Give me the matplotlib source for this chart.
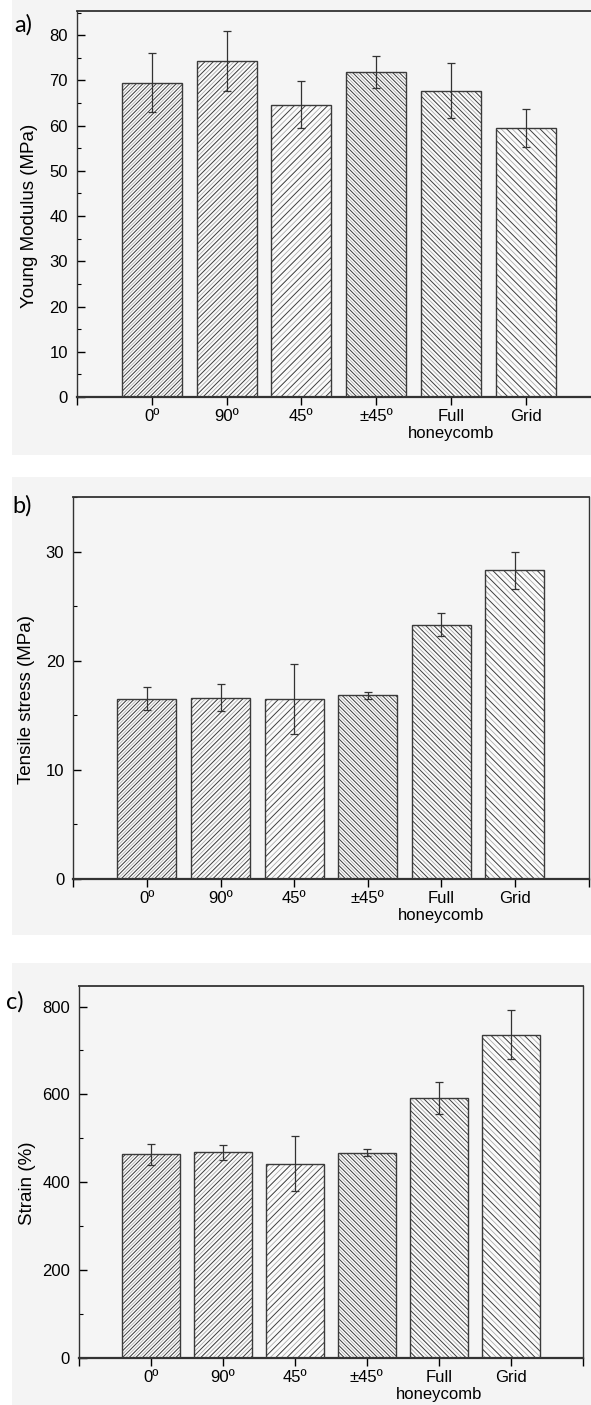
import matplotlib.pyplot as plt
from matplotlib.patches import Rectangle
from matplotlib.ticker import MultipleLocator

categories = ['0º', '90º', '45º', '±45º', 'Full\nhoneycomb', 'Grid']
young_modulus = [69.5, 74.3, 64.6, 71.8, 67.7, 59.4]
young_modulus_err = [6.6, 6.7, 5.2, 3.5, 6.1, 4.2]
tensile_stress = [16.5, 16.6, 16.5, 16.8, 23.3, 28.3]
tensile_stress_err = [1.05, 1.25, 3.2, 0.35, 1.07, 1.7]
strain = [463, 468, 442, 467, 592, 736]
strain_err = [24, 17, 63, 8, 37, 56]

hatch_dir = ['/', '/', '/', '\\', '\\', '\\']
hatch_n = [5, 4, 3, 5, 4, 3]

W, H = 591, 1405
plt.rcParams['font.family'] = ['Liberation Sans', 'DejaVu Sans']
plt.rcParams['hatch.linewidth'] = 0.6

fig = plt.figure(figsize=(W / 100, H / 100), dpi=100)
fig.patch.set_facecolor('white')

# light grey paper behind each panel
for (x0, y0, x1, y1) in [(12, 0, 591, 455), (12, 477, 591, 935), (12, 963, 591, 1405)]:
    fig.patches.append(Rectangle((x0 / W, 1 - y1 / H), (x1 - x0) / W, (y1 - y0) / H,
                                 transform=fig.transFigure, facecolor='#f4f4f4',
                                 edgecolor='none', zorder=-5))


def px_axes(left, top, right, bottom):
    return fig.add_axes([left / W, 1 - bottom / H, (right - left) / W, (bottom - top) / H])


def panel(ax, values, errs, ymax, major, minor, ylabel, ylab_xy, tag, tag_xy):
    x = list(range(1, 7))
    for i in range(6):
        ax.bar(x[i], values[i], width=0.8, facecolor='#fbfbfb', edgecolor='#b0b0b0',
               linewidth=0, hatch=hatch_dir[i] * (hatch_n[i] * 2), zorder=2)
        ax.bar(x[i], values[i], width=0.8, facecolor='none', edgecolor='#3a3a3a',
               linewidth=1.0, hatch=hatch_dir[i] * hatch_n[i], zorder=3)
    ax.errorbar(x, values, yerr=errs, fmt='none', ecolor='#333333', elinewidth=0.9,
                capsize=3, capthick=0.9, zorder=4)
    ax.set_xlim(0, 7)
    ax.set_ylim(0, ymax)
    ax.set_facecolor('#f5f5f5')
    ax.set_xticks(range(8))
    ax.set_xticklabels([''] + categories + [''], fontsize=12)
    ax.yaxis.set_major_locator(MultipleLocator(major))
    ax.yaxis.set_minor_locator(MultipleLocator(minor))
    ax.tick_params(axis='y', which='major', direction='in', length=5.5, width=1.0,
                   labelsize=12, pad=6.5)
    ax.tick_params(axis='y', which='minor', direction='in', length=3, width=0.8)
    ax.tick_params(axis='x', direction='out', length=5.5, width=1.0, pad=3)
    for s in ax.spines.values():
        s.set_linewidth(1.0)
        s.set_color('#333333')
    ax.spines['bottom'].set_linewidth(1.6)
    ax.spines['top'].set_linewidth(1.3)
    fig.text(ylab_xy[0] / W, 1 - ylab_xy[1] / H, ylabel, rotation=90, ha='center',
             va='center', fontsize=13.5)
    fig.text(tag_xy[0] / W, 1 - tag_xy[1] / H, tag, ha='center', va='center',
             fontsize=17, family=['Lato', 'DejaVu Sans'])


ax_a = px_axes(77, 10.7, 600.6, 397)
panel(ax_a, young_modulus, young_modulus_err, 85.4, 10, 5, 'Young Modulus (MPa)',
      (30, 216), 'a)', (23, 25))
ax_a.spines['right'].set_visible(False)

ax_b = px_axes(73.3, 497, 588.5, 878.7)
panel(ax_b, tensile_stress, tensile_stress_err, 35, 10, 5, 'Tensile stress (MPa)',
      (27, 700), 'b)', (22, 506))

ax_c = px_axes(79, 985.5, 582.7, 1357.7)
panel(ax_c, strain, strain_err, 848, 200, 100, 'Strain (%)',
      (27, 1183), 'c)', (15, 1002))

fig.savefig('out.png', dpi=100)
